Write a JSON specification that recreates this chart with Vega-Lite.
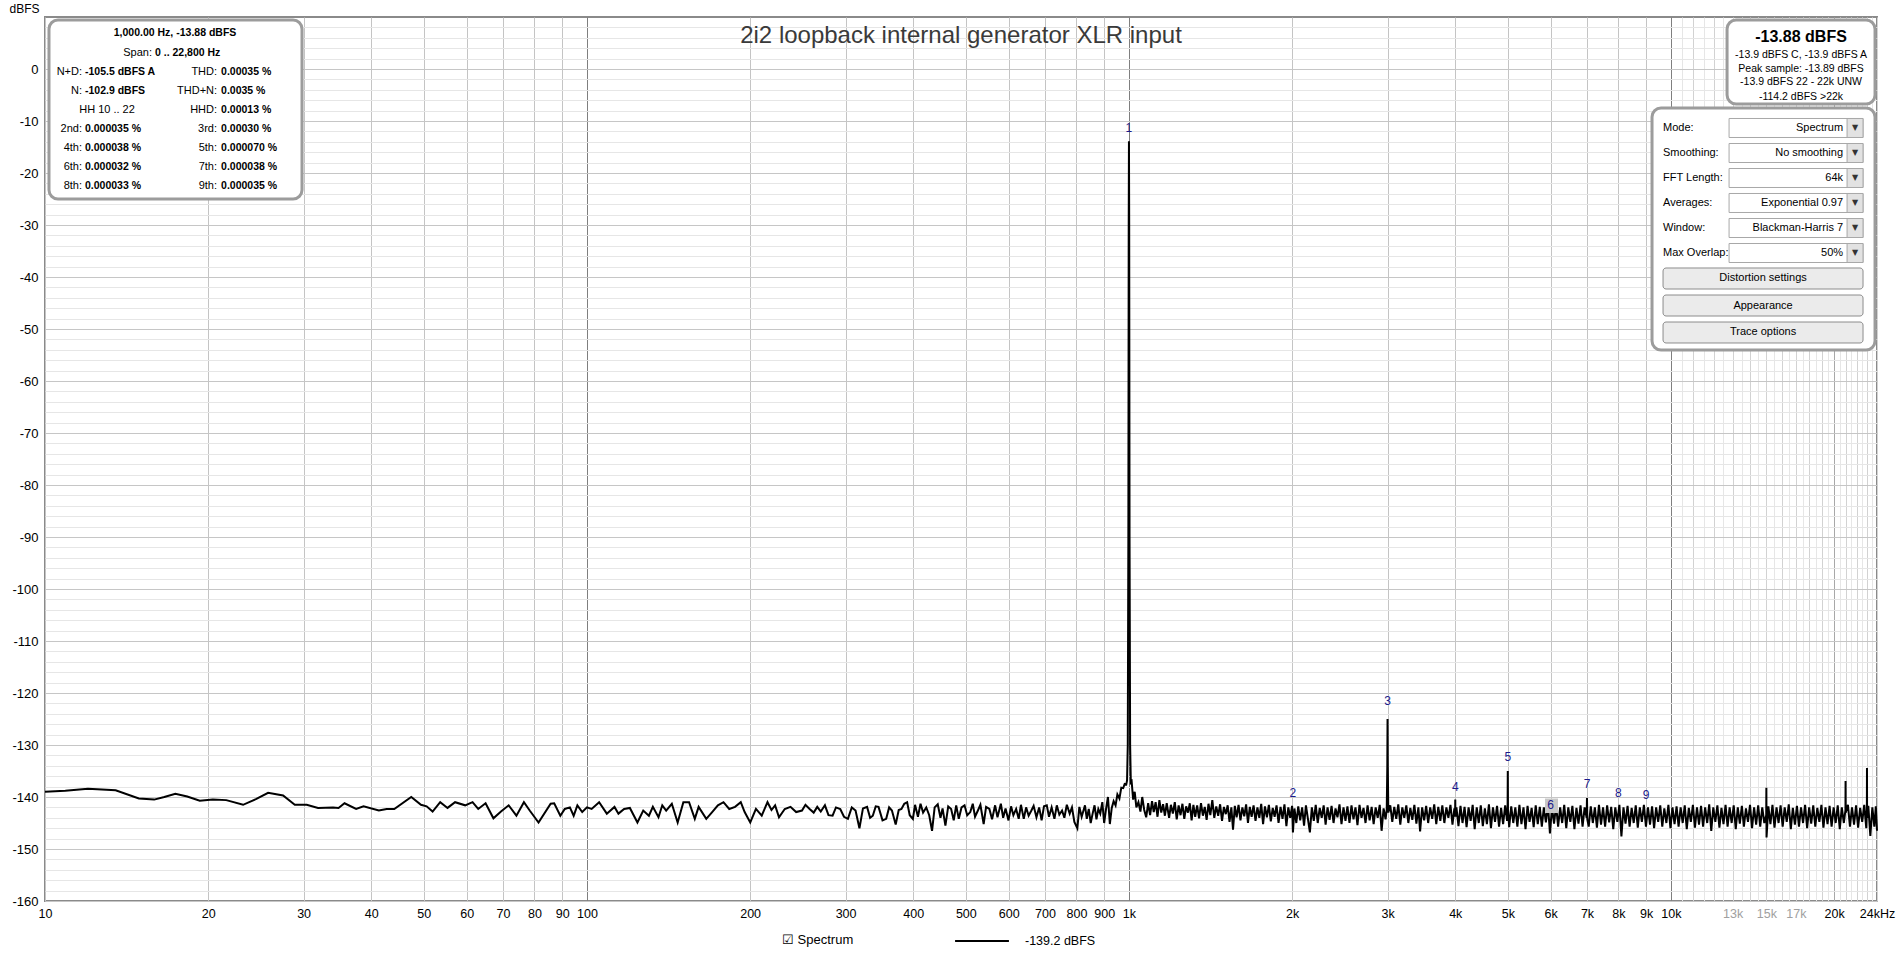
{
"$schema": "https://vega.github.io/schema/vega-lite/v6.json",
"width": 1832,
"height": 884,
"autosize": {"type": "none"},
"padding": {"left": 45, "top": 17, "right": 23, "bottom": 54},
"background": "#ffffff",
"config": {
 "view": {"stroke": "#8a8a8a", "strokeWidth": 2},
 "font": "Liberation Sans",
 "axis": {"labelFont": "Liberation Sans", "labelColor": "#000000", "titleFont": "Liberation Sans"},
 "legend": {"labelFont": "Liberation Sans", "titleFont": "Liberation Sans"}
},
"title": {"text": "2i2 loopback internal generator XLR input", "anchor": "middle", "frame": "group", "orient": "top", "offset": -17, "dy": 41, "baseline": "middle", "fontSize": 24, "fontWeight": "normal", "color": "#3a3a3a", "font": "Liberation Sans"},
"datasets": {
"trace": [
{"f":10,"d":-139.0},{"f":10.9,"d":-138.8},{"f":12.0,"d":-138.4},{"f":13.5,"d":-138.7},{"f":14.9,"d":-140.3},{"f":15.9,"d":-140.5},{"f":16.6,"d":-140.0},{"f":17.4,"d":-139.4},{"f":18.3,"d":-139.9},{"f":19.3,"d":-140.7},{"f":20.4,"d":-140.5},{"f":21.6,"d":-140.6},{"f":23.2,"d":-141.5},{"f":24.5,"d":-140.4},{"f":25.8,"d":-139.2},{"f":27.5,"d":-139.7},{"f":28.9,"d":-141.5},{"f":30.4,"d":-141.5},{"f":31.9,"d":-142.1},{"f":34.0,"d":-142.0},{"f":34.8,"d":-142.1},{"f":35.7,"d":-141.2},{"f":37.5,"d":-142.3},{"f":38.7,"d":-141.8},{"f":41.3,"d":-142.6},{"f":42.7,"d":-142.3},{"f":44.1,"d":-142.3},{"f":47.4,"d":-140.0},{"f":49.4,"d":-141.5},{"f":50.6,"d":-141.8},{"f":51.9,"d":-142.8},{"f":53.6,"d":-141.0},{"f":55.3,"d":-142.1},{"f":57.1,"d":-141.0},{"f":59.6,"d":-141.6},{"f":61.5,"d":-141.0},{"f":63.0,"d":-142.3},{"f":65.0,"d":-141.2},{"f":67.2,"d":-144.1},{"f":69.4,"d":-142.8},{"f":71.7,"d":-141.6},{"f":74.1,"d":-143.6},{"f":76.5,"d":-141.0},{"f":78.4,"d":-142.6},{"f":81.4,"d":-144.9},{"f":85.7,"d":-141.3},{"f":87.0,"d":-141.2},{"f":89.3,"d":-143.6},{"f":91.0,"d":-142.3},{"f":93.0,"d":-142.0},{"f":94.5,"d":-143.6},{"f":96.0,"d":-141.6},{"f":98.0,"d":-142.9},{"f":100,"d":-142.0},
{"f":102,"d":-142.3},{"f":105.3,"d":-141.0},{"f":108.8,"d":-143.2},{"f":112.4,"d":-141.9},{"f":114.3,"d":-143.2},{"f":117.1,"d":-142.3},{"f":120,"d":-142.1},{"f":123.9,"d":-144.9},{"f":127,"d":-142.6},{"f":130.1,"d":-143.6},{"f":132.3,"d":-141.9},{"f":135.5,"d":-143.9},{"f":137.7,"d":-141.6},{"f":140,"d":-142.6},{"f":143.4,"d":-141.3},{"f":147,"d":-144.9},{"f":150.6,"d":-141.0},{"f":154.3,"d":-141.0},{"f":158.1,"d":-144.2},{"f":160.7,"d":-141.9},{"f":166,"d":-144.2},{"f":170.2,"d":-142.9},{"f":174.4,"d":-141.6},{"f":178.6,"d":-141.0},{"f":183,"d":-142.3},{"f":187.6,"d":-141.9},{"f":192.2,"d":-141.0},{"f":195.4,"d":-142.9},{"f":200.1,"d":-144.9},
{"f":205,"d":-142.3},{"f":210.1,"d":-143.6},{"f":215.3,"d":-141.0},{"f":219,"d":-142.5},{"f":222.4,"d":-141.6},{"f":226.1,"d":-143.9},{"f":231.7,"d":-142.3},{"f":237.4,"d":-141.9},{"f":243.2,"d":-142.9},{"f":249.3,"d":-142.6},{"f":253,"d":-141.5},{"f":257.5,"d":-142.3},{"f":262,"d":-143.0},{"f":266,"d":-141.9},{"f":270,"d":-142.8},{"f":274.8,"d":-141.6},{"f":279,"d":-143.5},{"f":283.9,"d":-143.6},{"f":288,"d":-142.0},{"f":293.3,"d":-142.3},{"f":298,"d":-143.8},{"f":303,"d":-144.2},{"f":308,"d":-142.0},{"f":313,"d":-142.6},{"f":318.2,"d":-146.0},{"f":323,"d":-142.2},{"f":328.7,"d":-141.9},{"f":333,"d":-144.0},{"f":336.8,"d":-143.6},{"f":341,"d":-141.8},{"f":345.1,"d":-141.9},{"f":351,"d":-144.5},{"f":356.5,"d":-144.2},{"f":361,"d":-142.0},{"f":365.3,"d":-142.6},{"f":371.2,"d":-145.3},{"f":376,"d":-142.5},{"f":380.4,"d":-142.3},{"f":385,"d":-141.3},{"f":389.7,"d":-141.0},{"f":394,"d":-143.5},{"f":399.3,"d":-144.2},
{"f":403,"d":-141.5},{"f":408,"d":-143.8},{"f":412.5,"d":-141.3},{"f":417,"d":-143.0},{"f":422.7,"d":-142.0},{"f":428,"d":-143.5},{"f":433.2,"d":-146.5},{"f":438,"d":-142.0},{"f":443.8,"d":-141.4},{"f":449,"d":-144.0},{"f":453,"d":-142.2},{"f":458.5,"d":-145.5},{"f":464,"d":-141.8},{"f":469.8,"d":-142.3},{"f":475,"d":-144.5},{"f":480,"d":-141.6},{"f":485.3,"d":-144.2},{"f":491,"d":-142.0},{"f":497.3,"d":-141.6},{"f":503,"d":-143.5},{"f":509.6,"d":-142.9},{"f":515,"d":-141.3},{"f":520,"d":-143.8},{"f":526.4,"d":-142.6},{"f":532,"d":-141.5},{"f":539.4,"d":-145.2},{"f":545,"d":-141.9},{"f":552.7,"d":-142.3},{"f":559,"d":-144.3},{"f":566.3,"d":-141.6},{"f":572,"d":-143.9},{"f":580.3,"d":-141.3},{"f":586,"d":-144.0},{"f":592,"d":-142.2},{"f":599.4,"d":-144.5},{"f":606,"d":-141.8},{"f":612,"d":-143.5},{"f":619.2,"d":-142.3},{"f":626,"d":-144.2},{"f":632,"d":-141.5},{"f":639.6,"d":-144.2},{"f":646,"d":-142.0},{"f":653,"d":-143.6},{"f":660.7,"d":-142.6},{"f":667,"d":-141.7},{"f":675,"d":-143.9},{"f":682.8,"d":-142.0},{"f":690,"d":-144.5},{"f":697,"d":-141.8},{"f":705.3,"d":-141.6},{"f":712,"d":-143.8},{"f":720,"d":-142.0},{"f":728.6,"d":-144.2},{"f":736,"d":-141.6},{"f":744,"d":-143.4},{"f":752.6,"d":-142.6},{"f":760,"d":-144.0},{"f":768,"d":-141.5},{"f":777.4,"d":-143.2},{"f":785,"d":-142.0},{"f":793,"d":-144.8},{"f":803.1,"d":-146.0},{"f":810,"d":-141.9},{"f":818,"d":-143.8},{"f":829.6,"d":-141.6},{"f":836,"d":-144.2},{"f":843,"d":-142.3},{"f":850,"d":-145.0},{"f":857,"d":-143.2},{"f":864,"d":-141.6},{"f":871,"d":-144.3},{"f":878,"d":-142.3},{"f":885.2,"d":-143.2},{"f":893,"d":-141.0},{"f":900,"d":-145.0},{"f":907,"d":-142.4},{"f":914.6,"d":-140.0},{"f":922,"d":-145.2},{"f":929.5,"d":-142.1},{"f":937,"d":-140.8},{"f":944.7,"d":-141.6},{"f":952,"d":-139.5},{"f":960.3,"d":-140.3},{"f":968,"d":-138.2},{"f":975.9,"d":-138.3},{"f":982,"d":-137.5},{"f":988.6,"d":-137.6},
{"f":992,"d":-136.8},{"f":995,"d":-130},{"f":997.5,"d":-90},{"f":999,"d":-30},{"f":1000,"d":-13.88},{"f":1001,"d":-30},{"f":1002.5,"d":-90},{"f":1005,"d":-130},{"f":1008,"d":-137.2},
{"f":1011.5,"d":-137.0},{"f":1018,"d":-140.5},{"f":1024.7,"d":-139.0},{"f":1032,"d":-142.0},{"f":1041,"d":-141.0},{"f":1050,"d":-142.8},{"f":1058,"d":-140.0},{"f":1067,"d":-142.5},{"f":1076,"d":-143.9},{"f":1085,"d":-141.2},{"f":1094,"d":-143.5},{"f":1103,"d":-140.8},{"f":1111,"d":-142.9},{"f":1120,"d":-141.0},{"f":1129,"d":-143.8},{"f":1138,"d":-140.6},{"f":1147,"d":-143.0},{"f":1156,"d":-141.4},{"f":1165,"d":-143.6},{"f":1174,"d":-141.2},{"f":1186,"d":-144.0},{"f":1195,"d":-141.5},{"f":1205,"d":-143.2},{"f":1215,"d":-141.0},{"f":1225,"d":-144.3},{"f":1235,"d":-141.6},{"f":1245,"d":-143.5},{"f":1255,"d":-141.3},{"f":1265,"d":-144.2},{"f":1275,"d":-141.8},{"f":1285,"d":-143.0},{"f":1295,"d":-141.2},{"f":1305,"d":-144.5},{"f":1315,"d":-141.5},{"f":1325,"d":-143.8},{"f":1336,"d":-141.6},{"f":1347,"d":-144.1},{"f":1358,"d":-141.2},{"f":1369,"d":-143.6},{"f":1380,"d":-141.9},{"f":1391,"d":-144.4},{"f":1402,"d":-141.3},{"f":1413,"d":-143.5},{"f":1425,"d":-140.6},{"f":1437,"d":-144.0},{"f":1449,"d":-141.8},{"f":1461,"d":-143.6},{"f":1473,"d":-141.4},{"f":1485,"d":-144.6},{"f":1497,"d":-141.9},{"f":1509,"d":-143.3},{"f":1521,"d":-141.6},{"f":1533,"d":-144.8},{"f":1545,"d":-142.0},{"f":1556,"d":-146.3},{"f":1568,"d":-141.7},{"f":1580,"d":-143.9},{"f":1593,"d":-141.5},{"f":1606,"d":-144.5},{"f":1619,"d":-142.0},{"f":1632,"d":-143.7},{"f":1645,"d":-141.4},{"f":1658,"d":-145.0},{"f":1671,"d":-141.9},{"f":1684,"d":-143.8},{"f":1698,"d":-141.6},{"f":1712,"d":-144.6},{"f":1726,"d":-142.0},{"f":1740,"d":-144.0},{"f":1754,"d":-141.3},{"f":1768,"d":-145.2},{"f":1782,"d":-141.8},{"f":1797,"d":-143.9},{"f":1812,"d":-141.5},{"f":1827,"d":-144.7},{"f":1842,"d":-142.1},{"f":1857,"d":-143.8},{"f":1872,"d":-141.6},{"f":1888,"d":-145.0},{"f":1904,"d":-141.9},{"f":1920,"d":-144.2},{"f":1936,"d":-141.4},{"f":1952,"d":-145.6},{"f":1968,"d":-142.0},{"f":1984,"d":-144.0},{"f":2000,"d":-141.7},{"f":2007,"d":-146.8},{"f":2020,"d":-142.2},{"f":2036,"d":-145.0},{"f":2053,"d":-141.8},{"f":2070,"d":-144.5},{"f":2087,"d":-142.0},{"f":2104,"d":-145.5},{"f":2121,"d":-141.6},{"f":2139,"d":-144.2},{"f":2157,"d":-146.8},{"f":2175,"d":-142.0},{"f":2193,"d":-144.6},{"f":2211,"d":-141.5},{"f":2230,"d":-145.0},{"f":2249,"d":-142.1},{"f":2268,"d":-144.0},{"f":2287,"d":-141.6},{"f":2306,"d":-145.3},{"f":2325,"d":-142.0},{"f":2345,"d":-144.4},{"f":2365,"d":-141.7},{"f":2385,"d":-145.0},{"f":2405,"d":-142.2},{"f":2425,"d":-143.9},{"f":2446,"d":-141.4},{"f":2467,"d":-145.2},{"f":2488,"d":-142.0},{"f":2509,"d":-144.6},{"f":2530,"d":-141.8},{"f":2552,"d":-145.0},{"f":2574,"d":-141.6},{"f":2596,"d":-144.3},{"f":2618,"d":-142.0},{"f":2640,"d":-145.4},{"f":2663,"d":-141.5},{"f":2686,"d":-144.0},{"f":2709,"d":-142.1},{"f":2732,"d":-145.0},{"f":2756,"d":-141.6},{"f":2780,"d":-144.5},{"f":2804,"d":-141.9},{"f":2828,"d":-145.2},{"f":2852,"d":-142.0},{"f":2877,"d":-144.0},{"f":2902,"d":-141.5},{"f":2925,"d":-146.5},{"f":2950,"d":-142.2},{"f":2975,"d":-144.3},{"f":2990,"d":-142.4},{"f":2997,"d":-134},{"f":3000,"d":-125.0},{"f":3003,"d":-134},{"f":3010,"d":-143.0},{"f":3035,"d":-141.6},{"f":3061,"d":-144.8},{"f":3087,"d":-141.9},{"f":3113,"d":-144.2},{"f":3140,"d":-141.4},{"f":3167,"d":-145.3},{"f":3194,"d":-142.0},{"f":3221,"d":-144.0},{"f":3249,"d":-141.6},{"f":3277,"d":-145.0},{"f":3305,"d":-142.1},{"f":3333,"d":-144.4},{"f":3362,"d":-141.5},{"f":3391,"d":-145.1},{"f":3420,"d":-142.0},{"f":3445,"d":-146.6},{"f":3475,"d":-142.0},{"f":3505,"d":-144.5},{"f":3535,"d":-141.7},{"f":3565,"d":-145.0},{"f":3596,"d":-142.0},{"f":3627,"d":-144.2},{"f":3658,"d":-141.4},{"f":3690,"d":-145.2},{"f":3722,"d":-141.9},{"f":3754,"d":-144.6},{"f":3786,"d":-141.6},{"f":3819,"d":-145.0},{"f":3852,"d":-142.0},{"f":3885,"d":-144.0},{"f":3919,"d":-141.5},{"f":3953,"d":-145.3},{"f":3985,"d":-142.2},{"f":3997,"d":-143.5},{"f":4000,"d":-140.5},{"f":4003,"d":-143.8},
{"f":4020,"d":-142.0},{"f":4055,"d":-145.6},{"f":4090,"d":-141.7},{"f":4125,"d":-145.0},{"f":4161,"d":-141.9},{"f":4197,"d":-145.8},{"f":4233,"d":-142.0},{"f":4270,"d":-144.6},{"f":4307,"d":-141.5},{"f":4344,"d":-146.2},{"f":4382,"d":-142.0},{"f":4420,"d":-145.0},{"f":4458,"d":-141.6},{"f":4497,"d":-145.6},{"f":4536,"d":-142.2},{"f":4575,"d":-145.2},{"f":4615,"d":-141.4},{"f":4655,"d":-146.0},{"f":4695,"d":-142.0},{"f":4736,"d":-144.8},{"f":4777,"d":-141.7},{"f":4818,"d":-145.7},{"f":4860,"d":-142.1},{"f":4902,"d":-145.2},{"f":4945,"d":-141.6},{"f":4985,"d":-144.6},{"f":4996,"d":-142.5},{"f":5000,"d":-135.0},{"f":5004,"d":-142.5},{"f":5030,"d":-145.8},{"f":5074,"d":-141.8},{"f":5118,"d":-145.0},{"f":5163,"d":-142.0},{"f":5208,"d":-145.7},{"f":5253,"d":-141.5},{"f":5299,"d":-145.2},{"f":5345,"d":-142.0},{"f":5391,"d":-146.2},{"f":5438,"d":-141.7},{"f":5485,"d":-144.8},{"f":5533,"d":-142.1},{"f":5581,"d":-145.8},{"f":5630,"d":-141.6},{"f":5679,"d":-145.2},{"f":5728,"d":-141.9},{"f":5778,"d":-145.7},{"f":5828,"d":-142.0},{"f":5879,"d":-144.9},{"f":5930,"d":-141.4},{"f":5981,"d":-147.0},{"f":6033,"d":-142.0},{"f":6086,"d":-145.1},{"f":6139,"d":-141.6},{"f":6192,"d":-145.7},{"f":6246,"d":-142.0},{"f":6300,"d":-145.0},{"f":6355,"d":-141.5},{"f":6410,"d":-146.0},{"f":6466,"d":-142.0},{"f":6522,"d":-144.8},{"f":6579,"d":-141.7},{"f":6636,"d":-146.2},{"f":6694,"d":-142.1},{"f":6752,"d":-145.1},{"f":6811,"d":-141.6},{"f":6870,"d":-145.7},{"f":6930,"d":-142.0},{"f":6990,"d":-144.0},{"f":7000,"d":-140.2},{"f":7010,"d":-144.3},{"f":7052,"d":-145.7},{"f":7114,"d":-141.8},{"f":7176,"d":-145.0},{"f":7239,"d":-142.0},{"f":7302,"d":-145.9},{"f":7366,"d":-141.5},{"f":7430,"d":-145.3},{"f":7495,"d":-142.0},{"f":7560,"d":-145.7},{"f":7626,"d":-141.6},{"f":7692,"d":-144.9},{"f":7759,"d":-141.9},{"f":7827,"d":-146.2},{"f":7895,"d":-142.0},{"f":7964,"d":-144.8},{"f":8033,"d":-141.5},{"f":8103,"d":-147.6},{"f":8174,"d":-142.0},{"f":8245,"d":-145.1},{"f":8317,"d":-141.7},{"f":8390,"d":-145.7},{"f":8463,"d":-142.1},{"f":8537,"d":-145.0},{"f":8611,"d":-141.6},{"f":8686,"d":-145.9},{"f":8762,"d":-142.0},{"f":8838,"d":-144.8},{"f":8915,"d":-141.5},{"f":8993,"d":-145.7},{"f":9071,"d":-142.0},{"f":9150,"d":-145.3},{"f":9230,"d":-141.8},{"f":9310,"d":-146.0},{"f":9391,"d":-142.0},{"f":9473,"d":-144.8},{"f":9556,"d":-141.6},{"f":9639,"d":-145.7},{"f":9723,"d":-142.2},{"f":9808,"d":-145.0},{"f":9893,"d":-141.5},{"f":9979,"d":-146.0},{"f":10066,"d":-142.0},{"f":10154,"d":-145.2},{"f":10242,"d":-141.8},{"f":10331,"d":-145.7},{"f":10421,"d":-142.0},{"f":10512,"d":-145.0},{"f":10604,"d":-141.6},{"f":10696,"d":-146.2},{"f":10789,"d":-142.1},{"f":10883,"d":-144.8},{"f":10978,"d":-141.5},{"f":11074,"d":-145.9},{"f":11170,"d":-142.0},{"f":11267,"d":-145.3},{"f":11365,"d":-141.7},{"f":11464,"d":-145.7},{"f":11564,"d":-142.0},{"f":11665,"d":-145.0},{"f":11766,"d":-141.4},{"f":11869,"d":-146.5},{"f":11972,"d":-142.0},{"f":12076,"d":-144.8},{"f":12181,"d":-141.6},{"f":12287,"d":-145.9},{"f":12394,"d":-142.1},{"f":12502,"d":-145.2},{"f":12611,"d":-141.5},{"f":12721,"d":-145.7},{"f":12832,"d":-142.0},{"f":12943,"d":-145.0},{"f":13056,"d":-141.6},{"f":13170,"d":-146.2},{"f":13284,"d":-142.0},{"f":13400,"d":-145.1},{"f":13517,"d":-141.7},{"f":13634,"d":-145.7},{"f":13753,"d":-142.2},{"f":13873,"d":-144.8},{"f":13993,"d":-141.5},{"f":14115,"d":-146.0},{"f":14238,"d":-142.0},{"f":14362,"d":-145.3},{"f":14487,"d":-141.6},{"f":14613,"d":-145.7},{"f":14740,"d":-142.0},{"f":14868,"d":-145.0},{"f":14990,"d":-143.5},{"f":15000,"d":-138.2},{"f":15010,"d":-147.8},{"f":15128,"d":-141.8},{"f":15260,"d":-145.2},{"f":15393,"d":-141.5},{"f":15527,"d":-145.9},{"f":15662,"d":-142.0},{"f":15798,"d":-145.0},{"f":15935,"d":-141.6},{"f":16074,"d":-145.7},{"f":16214,"d":-142.0},{"f":16355,"d":-144.8},{"f":16497,"d":-141.4},{"f":16641,"d":-146.2},{"f":16786,"d":-142.1},{"f":16932,"d":-145.3},{"f":17079,"d":-141.7},{"f":17228,"d":-145.7},{"f":17378,"d":-142.0},{"f":17529,"d":-145.0},{"f":17682,"d":-141.5},{"f":17836,"d":-146.0},{"f":17991,"d":-142.0},{"f":18148,"d":-145.1},{"f":18306,"d":-141.6},{"f":18465,"d":-145.7},{"f":18626,"d":-142.1},{"f":18788,"d":-144.8},{"f":18951,"d":-141.5},{"f":19116,"d":-145.9},{"f":19283,"d":-142.0},{"f":19451,"d":-145.2},{"f":19620,"d":-141.7},{"f":19791,"d":-145.7},{"f":19963,"d":-142.0},{"f":20137,"d":-145.0},{"f":20312,"d":-141.6},{"f":20489,"d":-146.2},{"f":20667,"d":-142.0},{"f":20847,"d":-145.0},{"f":20990,"d":-142.5},{"f":21000,"d":-136.9},{"f":21010,"d":-143.0},{"f":21211,"d":-141.5},{"f":21395,"d":-145.7},{"f":21582,"d":-142.0},{"f":21770,"d":-145.3},{"f":21959,"d":-141.6},{"f":22150,"d":-145.9},{"f":22343,"d":-142.1},{"f":22537,"d":-144.8},{"f":22733,"d":-141.5},{"f":22930,"d":-146.0},{"f":22990,"d":-142.5},{"f":23000,"d":-134.4},{"f":23010,"d":-144.0},{"f":23130,"d":-141.7},{"f":23330,"d":-147.5},{"f":23530,"d":-142.0},{"f":23730,"d":-145.7},{"f":23880,"d":-141.8},{"f":24000,"d":-146.5}
],
"peaks": [
{"f":1000,"d":-11.42,"t":"1"},{"f":2007,"d":-139.2,"t":"2"},{"f":3000,"d":-121.6,"t":"3"},{"f":4000,"d":-138.0,"t":"4"},{"f":5000,"d":-132.3,"t":"5"},{"f":6000,"d":-141.5,"t":"6"},{"f":7000,"d":-137.5,"t":"7"},{"f":8000,"d":-139.2,"t":"8"},{"f":9000,"d":-139.6,"t":"9"}
],
"boxes": [
{"f":5856,"f2":6189,"d":-140.29,"d2":-143.08,"k":"hl"},
{"f":10.171,"f2":29.80,"d":9.423,"d2":-25.0,"k":"panel"},
{"f":12693,"f2":23800,"d":9.423,"d2":-6.73,"k":"panel"},
{"f":9228,"f2":23800,"d":-7.5,"d2":-54.04,"k":"panel"},
{"f":12802,"f2":22617,"d":-9.519,"d2":-13.173,"k":"combo"},
{"f":12802,"f2":22617,"d":-14.327,"d2":-17.981,"k":"combo"},
{"f":12802,"f2":22617,"d":-19.135,"d2":-22.788,"k":"combo"},
{"f":12802,"f2":22617,"d":-23.942,"d2":-27.596,"k":"combo"},
{"f":12802,"f2":22617,"d":-28.75,"d2":-32.404,"k":"combo"},
{"f":12802,"f2":22617,"d":-33.558,"d2":-37.212,"k":"combo"},
{"f":21133,"f2":22617,"d":-9.519,"d2":-13.173,"k":"drop"},
{"f":21133,"f2":22617,"d":-14.327,"d2":-17.981,"k":"drop"},
{"f":21133,"f2":22617,"d":-19.135,"d2":-22.788,"k":"drop"},
{"f":21133,"f2":22617,"d":-23.942,"d2":-27.596,"k":"drop"},
{"f":21133,"f2":22617,"d":-28.75,"d2":-32.404,"k":"drop"},
{"f":21133,"f2":22617,"d":-33.558,"d2":-37.212,"k":"drop"},
{"f":9670,"f2":22617,"d":-38.269,"d2":-42.308,"k":"btn"},
{"f":9670,"f2":22617,"d":-43.462,"d2":-47.5,"k":"btn"},
{"f":9670,"f2":22617,"d":-48.654,"d2":-52.692,"k":"btn"}
],
"txt": [
{"f":17.375,"d":6.923,"t":"1,000.00 Hz, -13.88 dBFS","s":"bc"},
{"f":15.755,"d":3.077,"t":"Span:","s":"nr"},
{"f":15.957,"d":3.077,"t":"0 .. 22,800 Hz","s":"bl"},
{"f":11.704,"d":-0.577,"t":"N+D:","s":"nr"},
{"f":11.852,"d":-0.577,"t":"-105.5 dBFS A","s":"bl"},
{"f":20.771,"d":-0.577,"t":"THD:","s":"nr"},
{"f":21.127,"d":-0.577,"t":"0.00035 %","s":"bl"},
{"f":11.704,"d":-4.231,"t":"N:","s":"nr"},
{"f":11.852,"d":-4.231,"t":"-102.9 dBFS","s":"bl"},
{"f":20.771,"d":-4.231,"t":"THD+N:","s":"nr"},
{"f":21.127,"d":-4.231,"t":"0.0035 %","s":"bl"},
{"f":13.015,"d":-7.885,"t":"HH 10 .. 22","s":"nc"},
{"f":20.771,"d":-7.885,"t":"HHD:","s":"nr"},
{"f":21.127,"d":-7.885,"t":"0.00013 %","s":"bl"},
{"f":11.704,"d":-11.538,"t":"2nd:","s":"nr"},
{"f":11.852,"d":-11.538,"t":"0.000035 %","s":"bl"},
{"f":20.771,"d":-11.538,"t":"3rd:","s":"nr"},
{"f":21.127,"d":-11.538,"t":"0.00030 %","s":"bl"},
{"f":11.704,"d":-15.192,"t":"4th:","s":"nr"},
{"f":11.852,"d":-15.192,"t":"0.000038 %","s":"bl"},
{"f":20.771,"d":-15.192,"t":"5th:","s":"nr"},
{"f":21.127,"d":-15.192,"t":"0.000070 %","s":"bl"},
{"f":11.704,"d":-18.846,"t":"6th:","s":"nr"},
{"f":11.852,"d":-18.846,"t":"0.000032 %","s":"bl"},
{"f":20.771,"d":-18.846,"t":"7th:","s":"nr"},
{"f":21.127,"d":-18.846,"t":"0.000038 %","s":"bl"},
{"f":11.704,"d":-22.5,"t":"8th:","s":"nr"},
{"f":11.852,"d":-22.5,"t":"0.000033 %","s":"bl"},
{"f":20.771,"d":-22.5,"t":"9th:","s":"nr"},
{"f":21.127,"d":-22.5,"t":"0.000035 %","s":"bl"},
{"f":17380,"d":6.058,"t":"-13.88 dBFS","s":"big"},
{"f":17380,"d":2.788,"t":"-13.9 dBFS C, -13.9 dBFS A","s":"sc"},
{"f":17380,"d":0.0,"t":"Peak sample: -13.89 dBFS","s":"sc"},
{"f":17380,"d":-2.5,"t":"-13.9 dBFS 22 - 22k UNW","s":"sc"},
{"f":17380,"d":-5.385,"t":"-114.2 dBFS >22k","s":"sc"},
{"f":9670,"d":-11.346,"t":"Mode:","s":"pl"},
{"f":9670,"d":-16.154,"t":"Smoothing:","s":"pl"},
{"f":9670,"d":-20.962,"t":"FFT Length:","s":"pl"},
{"f":9670,"d":-25.769,"t":"Averages:","s":"pl"},
{"f":9670,"d":-30.577,"t":"Window:","s":"pl"},
{"f":9670,"d":-35.385,"t":"Max Overlap:","s":"pl"},
{"f":20777,"d":-11.346,"t":"Spectrum","s":"pv"},
{"f":20777,"d":-16.154,"t":"No  smoothing","s":"pv"},
{"f":20777,"d":-20.962,"t":"64k","s":"pv"},
{"f":20777,"d":-25.769,"t":"Exponential 0.97","s":"pv"},
{"f":20777,"d":-30.577,"t":"Blackman-Harris 7","s":"pv"},
{"f":20777,"d":-35.385,"t":"50%","s":"pv"},
{"f":21864,"d":-11.346,"t":"▼","s":"tri"},
{"f":21864,"d":-16.154,"t":"▼","s":"tri"},
{"f":21864,"d":-20.962,"t":"▼","s":"tri"},
{"f":21864,"d":-25.769,"t":"▼","s":"tri"},
{"f":21864,"d":-30.577,"t":"▼","s":"tri"},
{"f":21864,"d":-35.385,"t":"▼","s":"tri"},
{"f":14791,"d":-40.288,"t":"Distortion settings","s":"btn"},
{"f":14791,"d":-45.481,"t":"Appearance","s":"btn"},
{"f":14791,"d":-50.673,"t":"Trace options","s":"btn"}
]
},
"encoding": {
 "x": {"field": "f", "type": "quantitative",
  "scale": {"type": "log", "domain": [10, 24000], "nice": false},
  "axis": {"title": null, "domain": false, "ticks": false, "labelPadding": 6, "labelFontSize": 12.5,
   "labelOverlap": false, "labelFlush": false, "labelBound": false,
   "values": [10,20,30,40,50,60,70,80,90,100,200,300,400,500,600,700,800,900,1000,2000,3000,4000,5000,6000,7000,8000,9000,10000,10500,11000,11500,12000,12500,13000,13500,14000,14500,15000,15500,16000,16500,17000,17500,18000,18500,19000,19500,20000,20500,21000,21500,22000,22500,23000,23500,24000],
   "labelExpr": "datum.value == 24000 ? '24kHz' : ((datum.value <= 10000 || datum.value == 13000 || datum.value == 15000 || datum.value == 17000 || datum.value == 20000) ? (datum.value >= 1000 ? (datum.value / 1000) + 'k' : '' + datum.value) : '')",
   "labelColor": {"condition": {"test": "datum.value == 13000 || datum.value == 15000 || datum.value == 17000", "value": "#a0a0a0"}, "value": "#000000"},
   "gridColor": {"condition": [
     {"test": "datum.value == 100 || datum.value == 1000 || datum.value == 10000", "value": "#7f7f7f"},
     {"test": "datum.value == 20000", "value": "#a8a8a8"},
     {"test": "datum.value > 10000 && datum.value % 1000 != 0", "value": "#e6e6e6"},
     {"test": "datum.value > 10000", "value": "#d2d2d2"}
    ], "value": "#c4c4c4"}
  }},
 "y": {"field": "d", "type": "quantitative",
  "scale": {"domain": [-160, 10], "nice": false, "zero": false},
  "axis": {"title": "dBFS", "titleAngle": 0, "titleX": -21, "titleY": -9, "titleAlign": "center", "titleBaseline": "middle",
   "titleFontSize": 12, "titleFontWeight": "normal", "titleColor": "#000000",
   "domain": false, "ticks": false, "labelPadding": 7, "labelFontSize": 13, "labelOverlap": false, "labelFlush": false, "labelBound": false,
   "values": [-160,-158,-156,-154,-152,-150,-148,-146,-144,-142,-140,-138,-136,-134,-132,-130,-128,-126,-124,-122,-120,-118,-116,-114,-112,-110,-108,-106,-104,-102,-100,-98,-96,-94,-92,-90,-88,-86,-84,-82,-80,-78,-76,-74,-72,-70,-68,-66,-64,-62,-60,-58,-56,-54,-52,-50,-48,-46,-44,-42,-40,-38,-36,-34,-32,-30,-28,-26,-24,-22,-20,-18,-16,-14,-12,-10,-8,-6,-4,-2,0,2,4,6,8],
   "labelExpr": "(datum.value % 10 == 0 && datum.value <= 0) ? '' + datum.value : ''",
   "gridColor": {"condition": {"test": "datum.value % 10 == 0", "value": "#c6c6c6"}, "value": "#e6e6e6"}
  }}
},
"layer": [
 {"data": {"name": "trace"}, "mark": {"type": "line", "strokeWidth": 2, "interpolate": "linear"},
  "encoding": {"color": {"datum": "Spectrum", "scale": {"range": ["#000000"]},
   "legend": {"orient": "none", "legendX": 737, "legendY": 896, "direction": "horizontal", "title": "☑ Spectrum", "titleOrient": "left", "titlePadding": 100, "titleFontSize": 13, "titleFontWeight": "normal", "titleColor": "#000000", "titleBaseline": "line-top", "titleLineHeight": 21, "labelExpr": "'-139.2 dBFS'", "labelFontSize": 12.5, "labelColor": "#000000", "labelOffset": 15, "symbolType": "stroke", "symbolSize": 2900, "symbolStrokeWidth": 2}}}},
 {"data": {"name": "boxes"}, "transform": [{"filter": "datum.k == 'hl'"}], "mark": {"type": "rect", "fill": "#c8c8c8"}, "encoding": {"x2": {"field": "f2"}, "y2": {"field": "d2"}}},
 {"data": {"name": "peaks"}, "mark": {"type": "text", "fontSize": 12, "color": "#1a1a8c", "align": "center", "baseline": "middle"}, "encoding": {"text": {"field": "t"}}},
 {"data": {"name": "boxes"}, "transform": [{"filter": "datum.k == 'panel'"}], "mark": {"type": "rect", "fill": "#ffffff", "stroke": "#9c9c9c", "strokeWidth": 3, "cornerRadius": 9}, "encoding": {"x2": {"field": "f2"}, "y2": {"field": "d2"}}},
 {"data": {"name": "boxes"}, "transform": [{"filter": "datum.k == 'combo'"}], "mark": {"type": "rect", "fill": "#ffffff", "stroke": "#a8a8a8", "strokeWidth": 1}, "encoding": {"x2": {"field": "f2"}, "y2": {"field": "d2"}}},
 {"data": {"name": "boxes"}, "transform": [{"filter": "datum.k == 'drop'"}], "mark": {"type": "rect", "fill": "#e2e2e2", "stroke": "#a8a8a8", "strokeWidth": 1}, "encoding": {"x2": {"field": "f2"}, "y2": {"field": "d2"}}},
 {"data": {"name": "boxes"}, "transform": [{"filter": "datum.k == 'btn'"}], "mark": {"type": "rect", "fill": "#ebebeb", "stroke": "#8c8c8c", "strokeWidth": 1, "cornerRadius": 3}, "encoding": {"x2": {"field": "f2"}, "y2": {"field": "d2"}}},
 {"data": {"name": "txt"}, "transform": [{"filter": "datum.s == 'bc'"}], "mark": {"type": "text", "fontSize": 10.5, "fontWeight": "bold", "align": "center", "baseline": "middle", "color": "#000000"}, "encoding": {"text": {"field": "t"}}},
 {"data": {"name": "txt"}, "transform": [{"filter": "datum.s == 'bl'"}], "mark": {"type": "text", "fontSize": 10.5, "fontWeight": "bold", "align": "left", "baseline": "middle", "color": "#000000"}, "encoding": {"text": {"field": "t"}}},
 {"data": {"name": "txt"}, "transform": [{"filter": "datum.s == 'nr'"}], "mark": {"type": "text", "fontSize": 11, "align": "right", "baseline": "middle", "color": "#000000"}, "encoding": {"text": {"field": "t"}}},
 {"data": {"name": "txt"}, "transform": [{"filter": "datum.s == 'nc' || datum.s == 'btn'"}], "mark": {"type": "text", "fontSize": 11, "align": "center", "baseline": "middle", "color": "#000000"}, "encoding": {"text": {"field": "t"}}},
 {"data": {"name": "txt"}, "transform": [{"filter": "datum.s == 'big'"}], "mark": {"type": "text", "fontSize": 16, "fontWeight": "bold", "align": "center", "baseline": "middle", "color": "#000000"}, "encoding": {"text": {"field": "t"}}},
 {"data": {"name": "txt"}, "transform": [{"filter": "datum.s == 'sc'"}], "mark": {"type": "text", "fontSize": 10.5, "align": "center", "baseline": "middle", "color": "#000000"}, "encoding": {"text": {"field": "t"}}},
 {"data": {"name": "txt"}, "transform": [{"filter": "datum.s == 'pl'"}], "mark": {"type": "text", "fontSize": 11, "align": "left", "baseline": "middle", "color": "#000000"}, "encoding": {"text": {"field": "t"}}},
 {"data": {"name": "txt"}, "transform": [{"filter": "datum.s == 'pv'"}], "mark": {"type": "text", "fontSize": 11, "align": "right", "baseline": "middle", "color": "#000000"}, "encoding": {"text": {"field": "t"}}},
 {"data": {"name": "txt"}, "transform": [{"filter": "datum.s == 'tri'"}], "mark": {"type": "text", "fontSize": 8, "font": "DejaVu Sans", "align": "center", "baseline": "middle", "color": "#333333"}, "encoding": {"text": {"field": "t"}}}
]
}
